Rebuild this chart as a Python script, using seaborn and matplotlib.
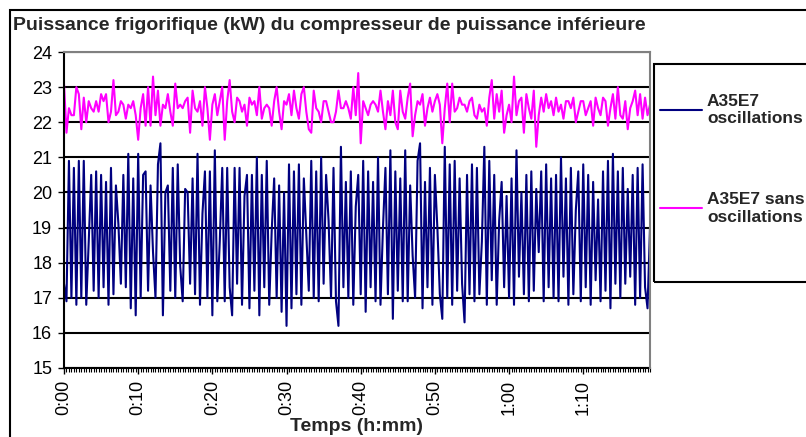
import numpy as np
import pandas as pd
import seaborn as sns
import matplotlib.pyplot as plt
from matplotlib.patches import Rectangle

# readings every 20 s (kW)
blue = [
    17.4, 16.9, 20.9, 17.0, 20.7, 16.8, 20.9, 17.0, 20.9, 16.8,
    18.6, 20.5, 17.2, 20.6, 17.0, 20.5, 17.3, 20.3, 16.8, 20.7,
    17.1, 20.2, 19.1, 17.4, 20.5, 17.3, 21.1, 16.7, 20.4, 16.5,
    21.1, 17.0, 20.5, 20.6, 17.2, 20.2, 18.3, 17.0, 20.8, 21.4,
    16.5, 20.0, 20.2, 17.2, 20.7, 17.0, 20.8, 17.9, 16.9, 20.1,
    20.0, 17.4, 20.4, 17.1, 21.1, 16.8, 19.4, 20.6, 17.0, 20.6,
    16.5, 21.2, 16.9, 18.6, 20.7, 16.9, 20.7, 17.3, 16.5, 20.7,
    17.4, 20.7, 16.8, 19.9, 20.5, 16.7, 20.5, 17.2, 21.0, 16.5,
    20.5, 17.3, 20.9, 16.8, 18.9, 20.4, 17.0, 20.2, 16.6, 20.0,
    16.2, 20.8, 16.7, 20.6, 17.1, 20.8, 16.8, 20.4, 18.8, 17.2,
    20.9, 17.0, 20.6, 16.9, 21.0, 17.4, 20.5, 19.2, 17.0, 20.7,
    16.9, 16.2, 21.3, 17.3, 20.3, 17.0, 20.6, 16.8, 19.6, 20.5,
    17.1, 20.9, 16.6, 20.6, 17.3, 20.3, 16.9, 21.0, 16.8, 19.0,
    20.7, 17.1, 21.2, 16.4, 20.6, 17.2, 20.4, 16.9, 21.2, 16.9,
    20.2, 18.2, 17.0, 20.9, 21.4, 16.7, 20.3, 17.3, 20.7, 16.8,
    20.5, 19.0, 17.1, 16.4, 21.3, 17.0, 20.8, 16.8, 20.9, 17.2,
    20.4, 17.4, 16.3, 20.5, 17.1, 20.8, 16.9, 20.7, 17.1, 18.6,
    21.3, 16.8, 20.9, 17.5, 20.5, 16.8, 19.2, 20.3, 17.3, 19.9,
    17.0, 20.4, 16.8, 21.2, 17.6, 20.0, 17.1, 20.5, 16.9, 20.6,
    17.2, 20.1, 18.3, 20.6, 16.9, 20.8, 17.3, 20.4, 17.0, 20.5,
    16.9, 21.0, 17.6, 20.4, 16.8, 20.7, 17.1, 19.5, 20.6, 16.9,
    20.8, 17.3, 20.5, 16.8, 20.3, 17.5, 19.8, 16.9, 20.6, 17.2,
    20.9, 16.7, 21.1, 17.4, 20.6, 17.0, 20.7, 17.4, 20.1, 17.6,
    20.5, 16.8, 20.7, 17.0, 20.8, 17.3, 16.7, 19.0,
]
pink = [
    23.1, 21.7, 22.4, 22.2, 22.2, 23.0, 22.8, 21.8, 22.7, 22.0,
    22.6, 22.4, 22.3, 22.6, 22.3, 22.8, 22.6, 22.8, 22.0, 22.3,
    23.2, 22.2, 22.3, 22.6, 22.5, 22.1, 22.5, 22.4, 22.6, 22.2,
    21.5, 22.4, 22.8, 21.9, 23.0, 21.9, 23.3, 22.2, 22.9, 21.9,
    22.5, 22.4, 22.8, 22.3, 21.9, 23.1, 22.4, 22.5, 22.4, 22.6,
    22.7, 21.7, 22.9, 22.4, 22.3, 22.6, 21.9, 23.0, 22.4, 21.5,
    22.5, 22.8, 22.2, 22.6, 23.0, 21.5, 22.6, 23.2, 22.3, 22.0,
    22.7, 22.6, 22.3, 22.5, 21.9, 22.7, 22.5, 22.6, 22.2, 23.0,
    22.1, 22.4, 22.5, 22.4, 21.9, 22.6, 23.0, 22.3, 21.8, 22.6,
    22.5, 22.8, 22.2, 22.9, 22.4, 22.1, 22.8, 23.0, 22.3, 21.8,
    21.7, 22.9, 22.4, 22.3, 22.0, 22.6, 22.6, 22.3, 22.0, 22.0,
    22.3, 22.9, 22.4, 22.4, 22.6, 22.4, 22.1, 23.0, 22.2, 23.4,
    21.4, 22.6, 22.4, 22.2, 22.5, 22.6, 22.5, 22.3, 22.9, 22.3,
    21.8, 22.6, 22.2, 22.9, 22.0, 21.8, 22.9, 22.3, 22.1, 22.7,
    23.1, 21.6, 22.2, 22.6, 22.5, 22.8, 21.9, 22.4, 22.7, 22.3,
    22.6, 22.8, 22.5, 21.4, 22.4, 23.1, 22.0, 23.1, 22.3, 22.4,
    22.7, 22.5, 22.5, 22.3, 22.6, 22.7, 22.2, 22.1, 22.5, 22.3,
    22.4, 21.9, 22.7, 23.2, 22.1, 22.8, 22.3, 22.9, 21.7, 22.2,
    22.5, 22.0, 23.3, 22.2, 22.6, 22.7, 21.7, 22.8, 22.4, 22.1,
    22.9, 21.3, 22.2, 22.7, 22.3, 22.8, 22.4, 22.6, 22.2, 22.7,
    22.3, 22.5, 22.1, 22.6, 22.6, 22.4, 22.7, 22.0, 22.3, 22.6,
    22.6, 22.2, 22.4, 22.6, 21.9, 22.7, 22.4, 22.2, 22.7, 22.6,
    21.9, 22.4, 22.8, 22.1, 23.0, 22.2, 22.1, 22.6, 21.8, 22.4,
    22.6, 22.9, 22.2, 22.8, 22.1, 22.7, 22.2, 22.5,
]
series_names = ["A35E7\noscillations", "A35E7 sans\noscillations"]
series_colors = ["#000080", "#FF00FF"]
tick_minutes = [0, 10, 20, 30, 40, 50, 60, 70]
tick_text = ["0:00", "0:10", "0:20", "0:30", "0:40", "0:50", "1:00", "1:10"]
y_ticks = [15, 16, 17, 18, 19, 20, 21, 22, 23, 24]

minutes = np.arange(len(blue)) / 3.0
df = pd.DataFrame({
    "t": np.concatenate([minutes, minutes]),
    "kW": blue + pink,
    "serie": [series_names[0]] * len(blue) + [series_names[1]] * len(pink),
})

sns.set_style("white")
plt.rcParams["font.family"] = ["Liberation Sans", "DejaVu Sans"]

W, H = 806, 437
fig = plt.figure(figsize=(W / 100, H / 100), dpi=100)
ax = fig.add_axes([64 / W, 1 - 368 / H, 586 / W, 316 / H])

sns.lineplot(data=df, x="t", y="kW", hue="serie", palette=series_colors,
             linewidth=1.5, estimator=None, sort=False, ax=ax)

ax.set_xlim(0, minutes[-1])
ax.set_ylim(15, 24)
ax.set_yticks(y_ticks)
ax.set_xticks(tick_minutes)
ax.set_xticklabels(tick_text, rotation=90)
ax.set_xticks(minutes, minor=True)
ax.set_axisbelow(True)
ax.yaxis.grid(True, color="black", linewidth=1.5)
ax.xaxis.grid(False)

ax.tick_params(axis="both", which="major", labelsize=13, colors="black",
               direction="out", length=4.5, width=1, pad=4, left=True, bottom=True)
ax.tick_params(axis="x", which="minor", direction="out", length=3, width=0.8,
               color="black", bottom=True)
ax.set_xlabel("Temps (h:mm)", fontsize=14, fontweight="bold", labelpad=2)
ax.set_ylabel("")

for side in ["left", "bottom"]:
    ax.spines[side].set_color("black")
    ax.spines[side].set_linewidth(1.5)
for side in ["top", "right"]:
    ax.spines[side].set_color("#808080")
    ax.spines[side].set_linewidth(1.5)
    ax.spines[side].set_zorder(3)

fig.text(13 / W, 1 - 25 / H, "Puissance frigorifique (kW) du compresseur de puissance inférieure",
         fontsize=14, fontweight="bold", va="center", ha="left")

# chart area border and legend box (both run past the right edge)
fig.add_artist(Rectangle((10 / W, -0.1), 1.0, 1.1 - 10 / H, transform=fig.transFigure,
                         fill=False, edgecolor="black", linewidth=1.5))
fig.add_artist(Rectangle((654 / W, 1 - 282 / H), 1.0, 218 / H, transform=fig.transFigure,
                         fill=False, edgecolor="black", linewidth=1.5))

handles, labels = ax.get_legend_handles_labels()
ax.legend(handles, labels, loc="upper left", bbox_to_anchor=(660 / W, 1 - 94 / H),
          bbox_transform=fig.transFigure, frameon=False,
          prop={"weight": "bold", "size": 12.5}, handlelength=2.4,
          handletextpad=0.3, labelspacing=3.8, borderpad=0, borderaxespad=0)

fig.savefig("out.png", dpi=100)
